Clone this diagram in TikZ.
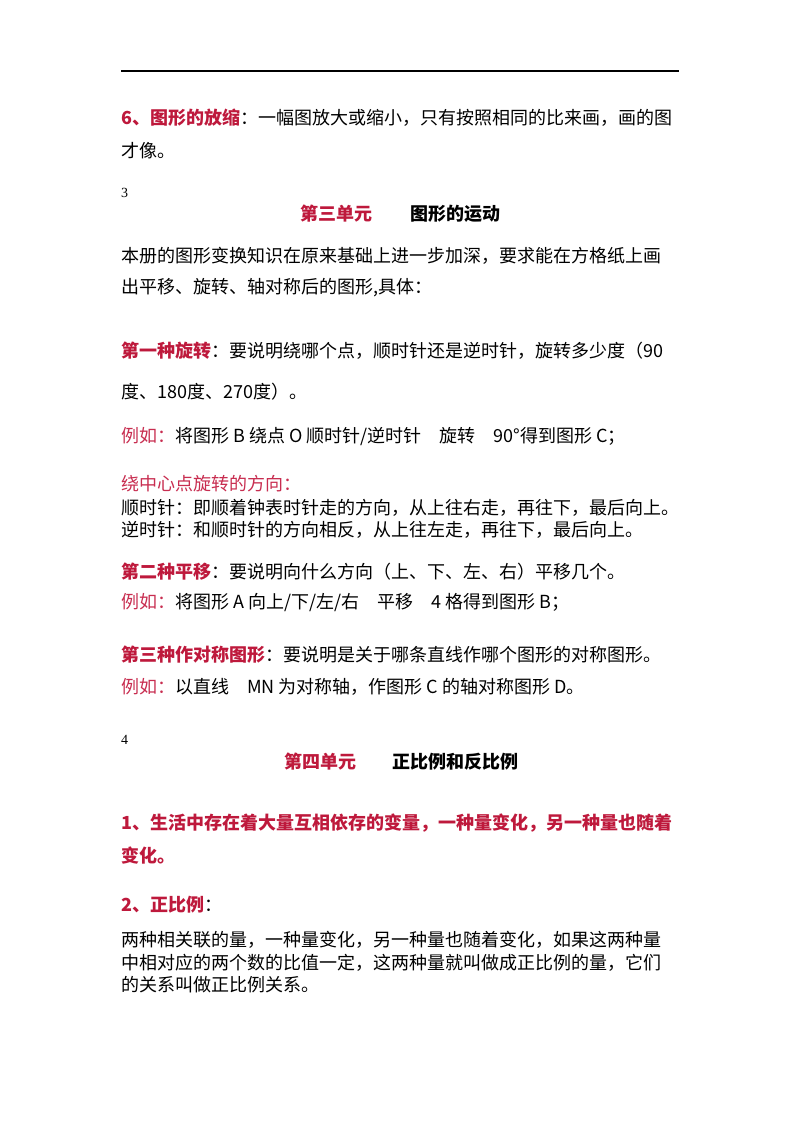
\documentclass[tikz,border=0pt]{standalone}
\usepackage{fontspec}
\setmainfont{Noto Sans CJK SC}
\newfontfamily\numfont{Liberation Serif}
\definecolor{hd}{RGB}{190,25,60}
\definecolor{lr}{RGB}{200,45,80}
\begin{document}
\begin{tikzpicture}[x=1pt,y=-1pt,
  t/.style={anchor=west,inner sep=0pt,font=\fontsize{18}{18}\selectfont},
  s/.style={anchor=west,inner sep=0pt,font=\fontsize{18}{18}\selectfont},
  b/.style={t,font=\fontsize{18}{18}\selectfont\bfseries}]
\useasboundingbox[fill=white] (0,0) rectangle (800,1132);
\draw[line width=1.2pt] (121,71) -- (679,71);
\node[t] (l1) at (121,118) {\textcolor{hd}{\bfseries 6、图形的放缩}：一幅图放大或缩小，只有按照相同的比来画，画的图};
\node[t] (l2) at (121,151) {才像。};
\node[anchor=west,inner sep=0pt,font=\numfont\fontsize{14}{14}\selectfont] (n3) at (121,193) {3};
\node[b,text=hd] (h3a) at (300,214) {第三单元};
\node[b] (h3b) at (410,214) {图形的运动};
\node[t] (l3) at (121,256) {本册的图形变换知识在原来基础上进一步加深，要求能在方格纸上画};
\node[t] (l4) at (121,288) {出平移、旋转、轴对称后的图形,具体：};
\node[t] (l5) at (121,351) {\textcolor{hd}{\bfseries 第一种旋转}：要说明绕哪个点，顺时针还是逆时针，旋转多少度（90};
\node[t] (l6) at (121,392) {度、180度、270度）。};
\node[t] (l7) at (121,436) {\textcolor{lr}{例如：}将图形 B 绕点 O 顺时针/逆时针\quad 旋转\quad 90°得到图形 C；};
\node[s,text=lr] (l8) at (121,484) {绕中心点旋转的方向：};
\node[s] (l9) at (121,508) {顺时针：即顺着钟表时针走的方向，从上往右走，再往下，最后向上。};
\node[s] (l10) at (121,530) {逆时针：和顺时针的方向相反，从上往左走，再往下，最后向上。};
\node[t] (l11) at (121,572) {\textcolor{hd}{\bfseries 第二种平移}：要说明向什么方向（上、下、左、右）平移几个。};
\node[t] (l12) at (121,603) {\textcolor{lr}{例如：}将图形 A 向上/下/左/右\quad 平移\quad 4 格得到图形 B；};
\node[t] (l13) at (121,655) {\textcolor{hd}{\bfseries 第三种作对称图形}：要说明是关于哪条直线作哪个图形的对称图形。};
\node[t] (l14) at (121,687) {\textcolor{lr}{例如：}以直线\quad MN 为对称轴，作图形 C 的轴对称图形 D。};
\node[anchor=west,inner sep=0pt,font=\numfont\fontsize{14}{14}\selectfont] (n4) at (121,740) {4};
\node[b,text=hd] (h4a) at (284,762) {第四单元};
\node[b] (h4b) at (392,762) {正比例和反比例};
\node[b,text=hd] (l15) at (121,823) {1、生活中存在着大量互相依存的变量，一种量变化，另一种量也随着};
\node[b,text=hd] (l16) at (121,856) {变化。};
\node[t] (l17) at (121,905) {\textcolor{hd}{\bfseries 2、正比例}：};
\node[s] (l18) at (121,940) {两种相关联的量，一种量变化，另一种量也随着变化，如果这两种量};
\node[s] (l19) at (121,963) {中相对应的两个数的比值一定，这两种量就叫做成正比例的量，它们};
\node[s] (l20) at (121,985) {的关系叫做正比例关系。};
\end{tikzpicture}
\end{document}
